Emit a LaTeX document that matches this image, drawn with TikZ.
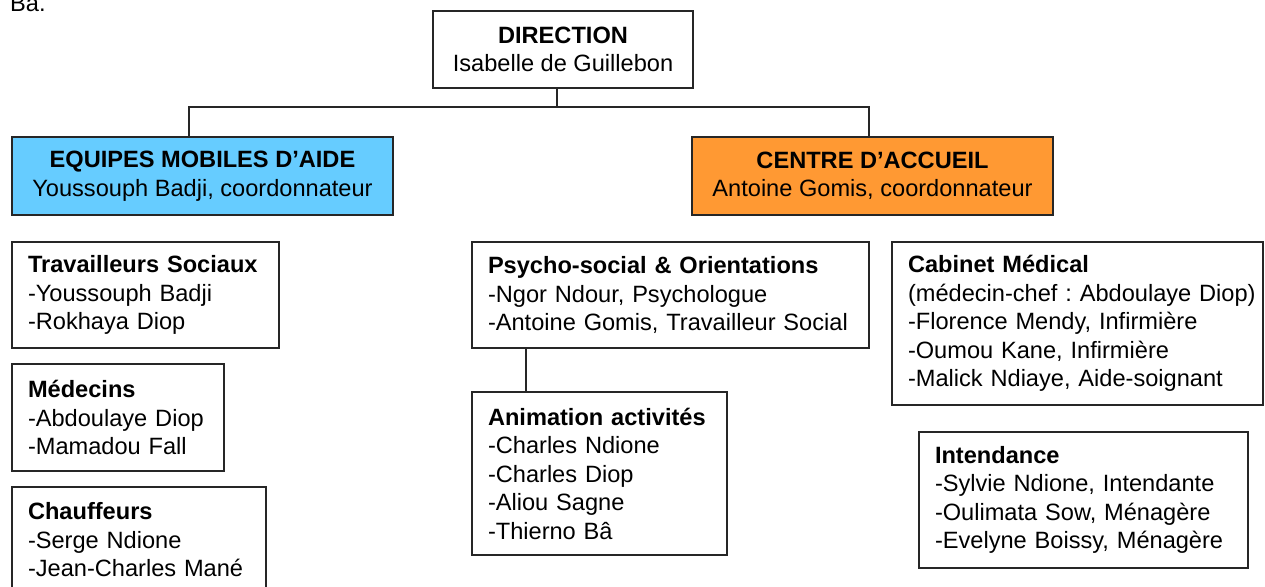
\documentclass[tikz,border=0pt]{standalone}
\usepackage{fontspec}
\setmainfont{Liberation Sans}
\usepackage{tikz}
\usetikzlibrary{positioning}

\definecolor{mobileblue}{RGB}{102,204,255}
\definecolor{accueilorange}{RGB}{255,153,51}

\begin{document}
\begin{tikzpicture}[x=1pt,y=-1pt,
		font=\fontsize{23.6}{28.5}\selectfont\frenchspacing,
		box/.style={draw=black!85, line width=1.4pt, outer sep=0pt, anchor=north west},
		head/.style={box, align=center, inner sep=2pt},
		team/.style={box, align=left, inner xsep=16pt, inner ysep=2pt},
		link/.style={draw=black!85, line width=1.4pt}]
		\useasboundingbox[fill=white] (0,0) rectangle (1265,586);
		
		\node[anchor=base west, inner sep=0pt] (prev) at (10,12) {Bâ.};
		
		% direction and the two services
		\node[head, minimum width=260, minimum height=77] (dir) at (433,11)
			{\textbf{DIRECTION}\\Isabelle de Guillebon};
		\node[head, fill=mobileblue, minimum width=381, minimum height=78] (emob) at (12,137)
			{\textbf{EQUIPES MOBILES D’AIDE}\\Youssouph Badji, coordonnateur};
		\node[head, fill=accueilorange, minimum width=361, minimum height=78] (ca) at (692,137)
			{\textbf{CENTRE D’ACCUEIL}\\Antoine Gomis, coordonnateur};
		
		\coordinate (fork) at (557,107);
		\coordinate (lefttick) at (189,107);
		\coordinate (righttick) at (869,107);
		\draw[link] (fork |- dir.south) -- (fork);
		\draw[link] (lefttick |- emob.north) -- (lefttick) -- (righttick) -- (righttick |- ca.north);
		
		% equipes mobiles
		\node[team, minimum width=267, minimum height=106, text width=235] (ts) at (12,242)
			{\textbf{Travailleurs Sociaux}\\-Youssouph Badji\\-Rokhaya Diop};
		\node[team, minimum width=212, minimum height=107, text width=180] (med) at (12,364)
			{\textbf{Médecins}\\-Abdoulaye Diop\\-Mamadou Fall};
		\node[team, minimum width=254, minimum height=106, text width=222] (chf) at (12,487)
			{\textbf{Chauffeurs}\\-Serge Ndione\\-Jean-Charles Mané};
		
		% centre d'accueil
		\node[team, minimum width=397, minimum height=106, text width=365] (psy) at (472,242)
			{\textbf{Psycho-social \& Orientations}\\-Ngor Ndour, Psychologue\\\mbox{-Antoine Gomis, Travailleur Social}};
		\node[team, minimum width=255, minimum height=163, text width=223] (anim) at (472,392)
			{\textbf{Animation activités}\\-Charles Ndione\\-Charles Diop\\-Aliou Sagne\\-Thierno Bâ};
		\coordinate (psytick) at (526,0);
		\draw[link] (psytick |- psy.south) -- (psytick |- anim.north);
		
		\node[team, minimum width=371, minimum height=163, text width=339] (cab) at (892,242)
			{\textbf{Cabinet Médical}\\\mbox{(médecin-chef : Abdoulaye Diop)}\\-Florence Mendy, Infirmière\\-Oumou Kane, Infirmière\\-Malick Ndiaye, Aide-soignant};
		\node[team, minimum width=329, minimum height=136, text width=297] (int) at (919,432)
			{\textbf{Intendance}\\-Sylvie Ndione, Intendante\\-Oulimata Sow, Ménagère\\-Evelyne Boissy, Ménagère};
	\end{tikzpicture}
\end{document}
